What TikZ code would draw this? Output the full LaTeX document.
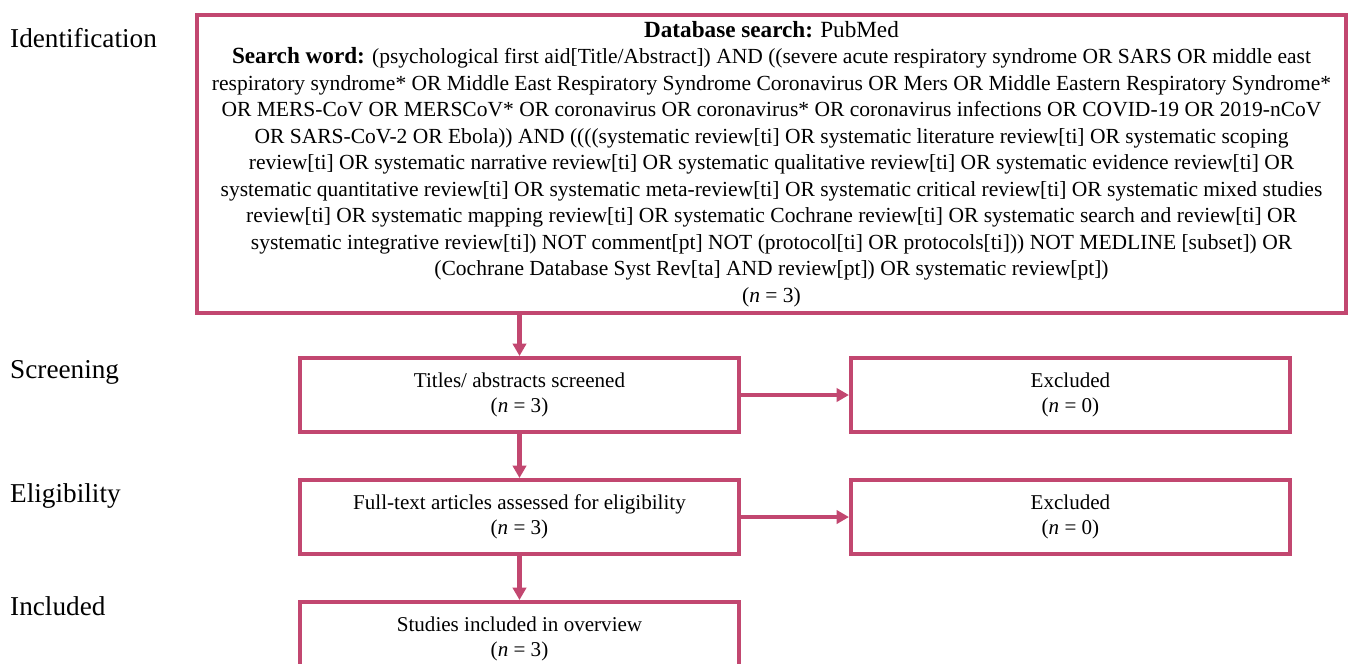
\documentclass[tikz,border=0pt]{standalone}
\usepackage{fontspec}
\setmainfont{Liberation Serif}
\usepackage{xcolor}
\usepackage{tikz}
\usetikzlibrary{arrows.meta, positioning}

\definecolor{prismapink}{RGB}{194,71,112}
\newcommand{\headfont}{\fontsize{13.2}{15.1}\selectfont\bfseries}

\begin{document}
\begin{tikzpicture}[
  x=0.02cm, y=-0.02cm,
  node distance = 0.88cm and 2.16cm,
  box/.style   = {draw=prismapink, line width=2.3pt, fill=white,
                  minimum width=8.78cm, minimum height=1.48cm,
                  font=\fontsize{12}{14}\selectfont, align=center},
  bigbox/.style = {draw=prismapink, line width=2.3pt, fill=white,
                  minimum width=22.98cm, minimum height=5.96cm,
                  inner xsep=0pt, inner ysep=1pt,
                  font=\fontsize{12.25}{15.1}\selectfont, align=center},
  stage/.style = {anchor=west, font=\fontsize{15.5}{18}\selectfont},
  arr/.style   = {-{Triangle[length=7pt, width=7.5pt]}, draw=prismapink,
                  fill=prismapink, line width=2.3pt},
]
\useasboundingbox (0,0) rectangle (1351,663);

% Identification -- the search box
\node[bigbox] (search) at (771.5,164) {%
  {\headfont Database search:} {\fontsize{13.2}{15.1}\selectfont PubMed}\\
  {\headfont Search word:} (psychological first aid[Title/Abstract]) AND ((severe acute respiratory syndrome OR SARS OR middle east\\
  respiratory syndrome* OR Middle East Respiratory Syndrome Coronavirus OR Mers OR Middle Eastern Respiratory Syndrome*\\
  OR MERS-CoV OR MERSCoV* OR coronavirus OR coronavirus* OR coronavirus infections OR COVID-19 OR 2019-nCoV\\
  OR SARS-CoV-2 OR Ebola)) AND ((((systematic review[ti] OR systematic literature review[ti] OR systematic scoping\\
  review[ti] OR systematic narrative review[ti] OR systematic qualitative review[ti] OR systematic evidence review[ti] OR\\
  systematic quantitative review[ti] OR systematic meta-review[ti] OR systematic critical review[ti] OR systematic mixed studies\\
  review[ti] OR systematic mapping review[ti] OR systematic Cochrane review[ti] OR systematic search and review[ti] OR\\
  systematic integrative review[ti]) NOT comment[pt] NOT (protocol[ti] OR protocols[ti])) NOT MEDLINE [subset]) OR\\
  (Cochrane Database Syst Rev[ta] AND review[pt]) OR systematic review[pt])\\
  (\textit{n} = 3)};

% Screening, eligibility, included
\node[box] (screen) at (519.5,395) {Titles/ abstracts screened\\ (\textit{n} = 3)};
\node[box, right=of screen] (excl1) {Excluded\\ (\textit{n} = 0)};
\node[box, below=of screen] (elig) {Full-text articles assessed for eligibility\\ (\textit{n} = 3)};
\node[box, right=of elig]   (excl2) {Excluded\\ (\textit{n} = 0)};
\node[box, below=of elig]   (incl) {Studies included in overview\\ (\textit{n} = 3)};

% Stage labels
\node[stage] (lident) at (4,38)  {Identification};
\node[stage] (lscreen) at (4,372) {Screening};
\node[stage] (lelig)  at (4,496) {Eligibility};
\node[stage] (lincl)  at (4,606) {Included};

% Arrows
\draw[arr] (search.south -| screen.north) -- (screen.north);
\draw[arr] (screen) -- (elig);
\draw[arr] (elig)   -- (incl);
\draw[arr] (screen) -- (excl1);
\draw[arr] (elig)   -- (excl2);
\end{tikzpicture}
\end{document}
